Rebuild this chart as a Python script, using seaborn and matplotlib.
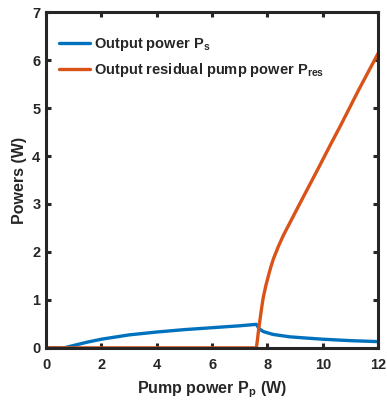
import matplotlib
matplotlib.use("Agg")
import matplotlib.pyplot as plt
import seaborn as sns
import pandas as pd

# Signal output power vs pump power
signal_pump = [0, 0.65, 1.0, 1.5, 2.0, 3.0, 4.0, 5.0, 6.0, 7.0, 7.6,
               7.7, 7.85, 8.2, 8.8, 9.5, 10.0, 11.0, 12.0]
signal_power = [0, 0, 0.05, 0.12, 0.18, 0.27, 0.33, 0.38, 0.42, 0.46, 0.49,
                0.40, 0.34, 0.28, 0.23, 0.20, 0.18, 0.15, 0.13]

# Residual pump power vs pump power
residual_pump = [0, 7.6, 7.64, 7.68, 7.73, 7.79, 7.85, 7.94, 8.03, 8.12,
                 8.22, 8.4, 8.58, 8.94, 9.3, 9.8, 10.3, 10.63, 11.3, 12.0]
residual_power = [0, 0, 0.17, 0.37, 0.58, 0.83, 1.05, 1.29, 1.49, 1.68,
                  1.86, 2.12, 2.35, 2.75, 3.15, 3.70, 4.26, 4.62, 5.38, 6.14]

x_ticks = [0, 2, 4, 6, 8, 10, 12]
y_ticks = [0, 1, 2, 3, 4, 5, 6, 7]

sns.set_theme(style="ticks")
plt.rcParams["font.family"] = ["Liberation Sans", "DejaVu Sans"]
plt.rcParams["font.weight"] = "bold"
plt.rcParams["mathtext.default"] = "regular"

fig = plt.figure(figsize=(3.87, 4.04), dpi=100)
ax = fig.add_axes([0.119, 0.139, 0.858, 0.831])

sig = pd.DataFrame({"pump": signal_pump, "power": signal_power})
res = pd.DataFrame({"pump": residual_pump, "power": residual_power})

sns.lineplot(data=sig, x="pump", y="power", ax=ax, color="#0072BD",
             lw=2.4, estimator=None, sort=False, label="Output power P$_s$")
sns.lineplot(data=res, x="pump", y="power", ax=ax, color="#D95319",
             lw=2.4, estimator=None, sort=False,
             label="Output residual pump power P$_{res}$")

ax.set_xlim(0, 12)
ax.set_ylim(0, 7)
ax.set_xticks(x_ticks)
ax.set_yticks(y_ticks)
ax.set_xlabel("Pump power P$_p$ (W)", fontsize=11.5, fontweight="bold",
              color="#262626", labelpad=5)
ax.set_ylabel("Powers (W)", fontsize=11.5, fontweight="bold", color="#262626")

for s in ax.spines.values():
    s.set_visible(True)
    s.set_linewidth(2.2)
    s.set_color("#262626")
ax.tick_params(direction="in", length=3.5, width=2.2, top=True, right=True,
               labelsize=10.5, colors="#262626", labelcolor="#262626", pad=4)
ax.tick_params(axis="x", pad=7.5)
for lab in ax.get_xticklabels() + ax.get_yticklabels():
    lab.set_fontweight("bold")

leg = ax.legend(loc="upper left", frameon=False, fontsize=10.5,
                handlelength=2.1, handletextpad=0.3, labelspacing=0.55,
                bbox_to_anchor=(0.0, 0.967))
for t in leg.get_texts():
    t.set_fontweight("bold")

fig.savefig("out.png", dpi=100)
